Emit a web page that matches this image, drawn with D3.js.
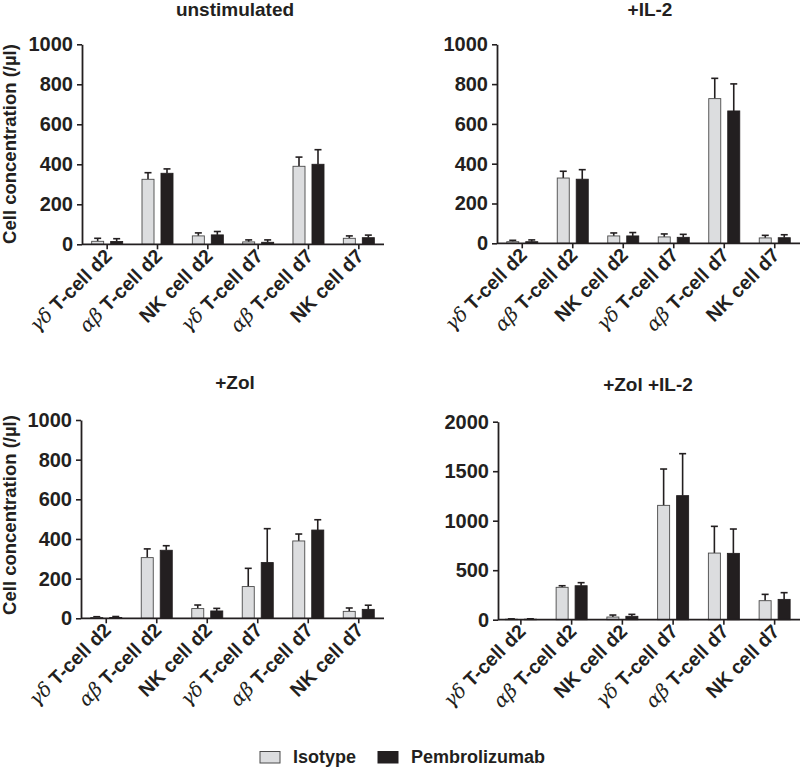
<!DOCTYPE html>
<html>
<head>
<meta charset="utf-8">
<script src="https://cdn.jsdelivr.net/npm/d3@7"></script>
<style>
  html, body { margin: 0; padding: 0; background: #fff; }
  svg { display: block; }
  text { font-family: "Liberation Sans", Arial, Helvetica, sans-serif; fill: #231f20; }
</style>
</head>
<body>
<svg id="chart" width="800" height="768"></svg>
<script>
// ---------------- data ----------------
const categories = ["γδ T-cell d2", "αβ T-cell d2", "NK cell d2", "γδ T-cell d7", "αβ T-cell d7", "NK cell d7"];
const seriesNames = ["Isotype", "Pembrolizumab"];
const panelTitles = ["unstimulated", "+IL-2", "+Zol", "+Zol +IL-2"];
const yMaxValues = [1000, 1000, 1000, 2000];
const yTicks1000 = [0, 200, 400, 600, 800, 1000];
const yTicks2000 = [0, 500, 1000, 1500, 2000];

const unstimIsotype = [15, 325, 42, 12, 390, 30];
const unstimIsotypeErr = [15, 33, 15, 10, 46, 12];
const unstimPembro = [14, 355, 47, 10, 400, 33];
const unstimPembroErr = [14, 22, 17, 12, 73, 13];

const il2Isotype = [8, 328, 37, 32, 727, 27];
const il2IsotypeErr = [7, 34, 15, 15, 102, 13];
const il2Pembro = [8, 322, 37, 30, 665, 28];
const il2PembroErr = [9, 48, 17, 15, 136, 15];

const zolIsotype = [4, 306, 49, 160, 390, 35];
const zolIsotypeErr = [4, 44, 18, 92, 35, 17];
const zolPembro = [4, 343, 37, 281, 445, 45];
const zolPembroErr = [5, 23, 13, 171, 52, 21];

const zolIl2Isotype = [5, 327, 27, 1155, 673, 192];
const zolIl2IsotypeErr = [4, 16, 20, 367, 270, 64];
const zolIl2Pembro = [5, 343, 34, 1253, 670, 205];
const zolIl2PembroErr = [4, 31, 20, 424, 246, 68];

const panelValues = [
  [unstimIsotype, unstimPembro],
  [il2Isotype, il2Pembro],
  [zolIsotype, zolPembro],
  [zolIl2Isotype, zolIl2Pembro]
];
const panelErrors = [
  [unstimIsotypeErr, unstimPembroErr],
  [il2IsotypeErr, il2PembroErr],
  [zolIsotypeErr, zolPembroErr],
  [zolIl2IsotypeErr, zolIl2PembroErr]
];

// ---------------- layout ----------------
const layout = [
  { axisX: 82,  band: [82, 384],    y: [244.3, 44.3], titleX: 235, titleY: 16,  yLabel: true,  yLabelY: 144 },
  { axisX: 497, band: [497, 800],   y: [243.3, 44.3], titleX: 650, titleY: 16,  yLabel: false },
  { axisX: 81,  band: [81, 384],    y: [618.3, 420],  titleX: 235, titleY: 389, yLabel: true,  yLabelY: 515 },
  { axisX: 498, band: [495.5, 800], y: [619.7, 421.7], titleX: 648, titleY: 391, yLabel: false }
];
const fills = ["#dcdddf", "#231f20"];
const ink = "#231f20";

const svg = d3.select("#chart");

layout.forEach((L, p) => {
  const g = svg.append("g");
  const yMax = yMaxValues[p];
  const y = d3.scaleLinear().domain([0, yMax]).range(L.y);
  const x0 = d3.scaleBand().domain(categories).range(L.band).padding(0);
  const x1 = d3.scaleBand().domain(seriesNames).range([-15.5, 15.5]).paddingInner(0.368).paddingOuter(0);

  // title
  g.append("text")
    .attr("x", L.titleX).attr("y", L.titleY)
    .attr("text-anchor", "middle")
    .style("font-size", "19px").style("font-weight", "bold")
    .text(panelTitles[p]);

  // bars + error bars
  seriesNames.forEach((s, si) => {
    const vals = panelValues[p][si];
    const errs = panelErrors[p][si];
    const grp = g.append("g");
    categories.forEach((c, ci) => {
      const cx = x0(c) + x0.bandwidth() / 2;
      const bx = cx + x1(s);
      const bw = x1.bandwidth();
      const mid = bx + bw / 2;
      const top = y(vals[ci]);
      const etop = y(vals[ci] + errs[ci]);
      grp.append("line")
        .attr("x1", mid).attr("x2", mid)
        .attr("y1", top).attr("y2", etop)
        .attr("stroke", ink).attr("stroke-width", 1.6);
      grp.append("line")
        .attr("x1", mid - 3.5).attr("x2", mid + 3.5)
        .attr("y1", etop).attr("y2", etop)
        .attr("stroke", ink).attr("stroke-width", 1.6);
      grp.append("rect")
        .attr("x", bx).attr("y", top)
        .attr("width", bw).attr("height", Math.max(0, y(0) - top))
        .attr("fill", fills[si])
        .attr("stroke", si === 0 ? "#4a4a4a" : ink)
        .attr("stroke-width", 0.9);
    });
  });

  // y axis
  const yAxis = d3.axisLeft(y)
    .tickValues(yMax === 2000 ? yTicks2000 : yTicks1000)
    .tickSize(5).tickSizeOuter(0).tickPadding(4)
    .tickFormat(d3.format("d"));
  const ya = g.append("g").attr("transform", `translate(${L.axisX},0)`).call(yAxis);
  ya.select(".domain").attr("stroke", ink).attr("stroke-width", 1.8);
  ya.selectAll(".tick line").attr("stroke", ink).attr("stroke-width", 1.6);
  ya.selectAll(".tick text")
    .style("font-size", "20px").style("font-weight", "bold")
    .style("font-family", '"Liberation Sans", Arial, sans-serif')
    .attr("fill", ink);

  // x axis
  const xAxis = d3.axisBottom(x0).tickSize(5).tickSizeOuter(0).tickFormat("");
  const xa = g.append("g").attr("transform", `translate(0,${L.y[0]})`).call(xAxis);
  xa.select(".domain")
    .attr("d", `M${L.axisX},0H${L.band[1]}`)
    .attr("stroke", ink).attr("stroke-width", 1.8);
  xa.selectAll(".tick line").attr("stroke", ink).attr("stroke-width", 1.6);

  // x labels (rotated)
  categories.forEach(c => {
    const cx = x0(c) + x0.bandwidth() / 2;
    const m = c.match(/^([α-ω]+)(.*)$/);
    const t = g.append("text")
      .attr("text-anchor", "end")
      .attr("transform", `translate(${cx + 6},${L.y[0] + 13}) rotate(-45)`)
      .style("font-size", "19.5px");
    if (m) {
      t.append("tspan")
        .style("font-family", '"DejaVu Serif", "Liberation Serif", serif')
        .style("font-style", "italic").style("font-weight", "normal")
        .text(m[1]);
      t.append("tspan").style("font-weight", "bold").text(m[2]);
    } else {
      t.append("tspan").style("font-weight", "bold").text(c);
    }
  });

  // y label
  if (L.yLabel) {
    g.append("text")
      .attr("transform", `translate(16,${L.yLabelY}) rotate(-90)`)
      .attr("text-anchor", "middle")
      .style("font-size", "18.5px").style("font-weight", "bold")
      .text("Cell concentration (/µl)");
  }
});

// legend
const legend = svg.append("g");
const legendX = [260, 378];
seriesNames.forEach((s, i) => {
  legend.append("rect")
    .attr("x", legendX[i]).attr("y", 751.5)
    .attr("width", 20).attr("height", 11.5)
    .attr("fill", fills[i])
    .attr("stroke", i === 0 ? "#4a4a4a" : ink).attr("stroke-width", 1);
  legend.append("text")
    .attr("x", legendX[i] + 33).attr("y", 763)
    .style("font-size", "18px").style("font-weight", "bold")
    .text(s);
});
</script>
</body>
</html>
